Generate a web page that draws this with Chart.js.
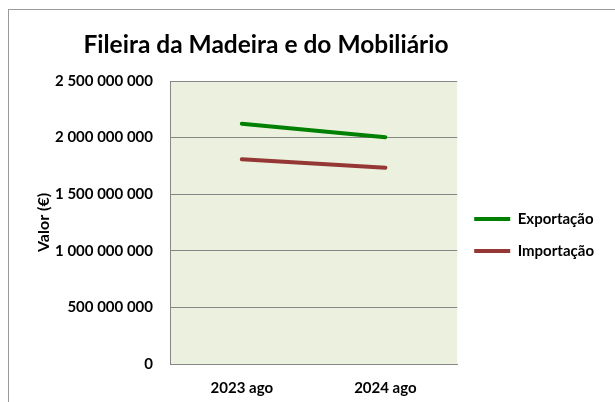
<!DOCTYPE html>
<html>
<head>
<meta charset="utf-8">
<script src="https://cdn.jsdelivr.net/npm/chart.js@4/dist/chart.umd.min.js"></script>
<style>
  html, body { margin: 0; padding: 0; background: #fff; overflow: hidden; }
  #frame { position: absolute; left: 8px; top: 9px; width: 800px; height: 600px; border: 1px solid #9a9a9a; }
  #wrap { position: absolute; left: 0; top: 0; width: 615px; height: 402px; }
</style>
</head>
<body>
<div id="frame"></div>
<div id="wrap"><canvas id="c"></canvas></div>
<script>
// dados
const periodos = ['2023 ago', '2024 ago'];
const exportacao = [2123000000, 2004000000];
const importacao = [1808000000, 1734000000];
const titulo = 'Fileira da Madeira e do Mobiliário';
const tituloEixoY = 'Valor (€)';

const FONT = 'Lato, "Open Sans", sans-serif';

// espaços como separador de milhares
function fmt(v) {
  return String(v).replace(/\B(?=(\d{3})+(?!\d))/g, ' ');
}

// fundo da área do gráfico + título
const plotBg = {
  id: 'plotBg',
  beforeDraw(chart) {
    const { ctx, chartArea: a } = chart;
    ctx.save();
    ctx.fillStyle = '#ebf1de';
    ctx.fillRect(a.left, a.top, a.right - a.left, a.bottom - a.top);
    ctx.restore();
  },
  afterDraw(chart) {
    const ctx = chart.ctx;
    ctx.save();
    ctx.font = 'bold 24.5px ' + FONT;
    ctx.fillStyle = '#000';
    ctx.textAlign = 'center';
    ctx.textBaseline = 'middle';
    ctx.fillText(titulo, 266, 45);
    ctx.restore();
  }
};

new Chart(document.getElementById('c'), {
  type: 'line',
  data: {
    labels: periodos,
    datasets: [
      {
        label: 'Exportação',
        data: exportacao,
        borderColor: '#008000',
        backgroundColor: '#008000',
        borderWidth: 4,
        borderCapStyle: 'round',
        pointRadius: 0,
      },
      {
        label: 'Importação',
        data: importacao,
        borderColor: '#953735',
        backgroundColor: '#953735',
        borderWidth: 4,
        borderCapStyle: 'round',
        pointRadius: 0,
      },
    ],
  },
  options: {
    responsive: true,
    maintainAspectRatio: false,
    animation: false,
    layout: { padding: { top: 81, right: 11, bottom: 0, left: 0 } },
    plugins: {
      tooltip: { enabled: false },
      legend: {
        position: 'right',
        fullSize: false,
        title: { display: true, text: ' ', font: { size: 10 }, padding: { top: 13, bottom: 0 } },
        labels: {
          usePointStyle: true,
          pointStyle: 'line',
          pointStyleWidth: 36,
          padding: 17,
          color: '#000',
          font: { family: FONT, size: 15, weight: 'bold' },
        },
      },
    },
    scales: {
      x: {
        offset: true,
        grid: { display: false, drawTicks: false },
        border: { color: '#868686', width: 1 },
        ticks: { color: '#000', padding: 15, font: { family: FONT, size: 15, weight: 'bold' } },
        afterFit(s) { s.height = 38; },
      },
      y: {
        min: 0,
        max: 2500000000,
        grid: { color: '#868686', drawTicks: false },
        border: { color: '#868686', width: 1 },
        ticks: {
          stepSize: 500000000,
          padding: 17,
          color: '#000',
          font: { family: FONT, size: 15, weight: 'bold' },
          callback: (v) => fmt(v),
        },
        title: {
          display: true,
          text: tituloEixoY,
          color: '#000',
          font: { family: FONT, size: 16, weight: 'bold' },
          padding: { top: 34, bottom: 0 },
        },
        afterFit(s) { s.width = 170; },
      },
    },
  },
  plugins: [plotBg],
});
</script>
</body>
</html>
